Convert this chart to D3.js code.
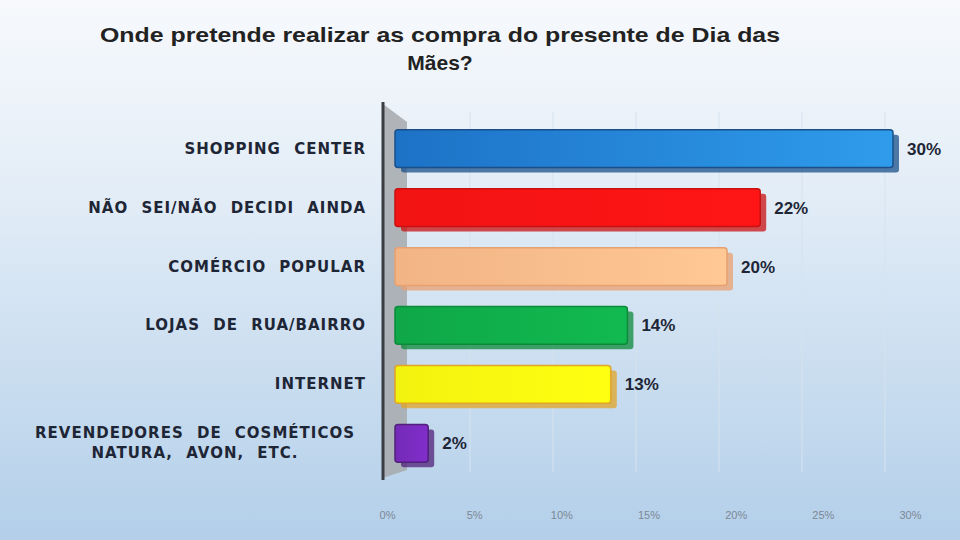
<!DOCTYPE html>
<html>
<head>
<meta charset="utf-8">
<script src="https://cdn.jsdelivr.net/npm/d3@7"></script>
<style>
  body { margin: 0; }
  svg { display: block; }
</style>
</head>
<body>
<div id="chart"></div>
<script>
// data
const categories = [
  "SHOPPING CENTER",
  "NÃO SEI/NÃO DECIDI AINDA",
  "COMÉRCIO POPULAR",
  "LOJAS DE RUA/BAIRRO",
  "INTERNET",
  "REVENDEDORES DE COSMÉTICOS|NATURA, AVON, ETC."
];
const values = [30, 22, 20, 14, 13, 2];
const tickValues = [0, 5, 10, 15, 20, 25, 30];
const barColors = ["#1f78d1", "#ff1414", "#ffbe8c", "#10b04c", "#ffff10", "#7a2cc0"];
const barEdges = ["#1a4f8a", "#c81010", "#e8a070", "#0c8a3a", "#e0a428", "#50207a"];

const width = 960;
const height = 540;

const svg = d3.select("#chart")
  .append("svg")
  .attr("width", width)
  .attr("height", height);

const defs = svg.append("defs");

// background gradient
const bg = defs.append("linearGradient").attr("id", "bg")
  .attr("x1", 0).attr("y1", 0).attr("x2", 0).attr("y2", 1);
bg.append("stop").attr("offset", "0%").attr("stop-color", "#f7f9fc");
bg.append("stop").attr("offset", "35%").attr("stop-color", "#e3edf7");
bg.append("stop").attr("offset", "100%").attr("stop-color", "#b3cfe9");

svg.append("rect").attr("width", width).attr("height", height).attr("fill", "url(#bg)");

// bar gradients
barColors.forEach((c, i) => {
  const g = defs.append("linearGradient").attr("id", "bar" + i)
    .attr("x1", 0).attr("y1", 0).attr("x2", 1).attr("y2", 0);
  g.append("stop").attr("offset", "0%").attr("stop-color", d3.color(c).darker(0.15));
  g.append("stop").attr("offset", "100%").attr("stop-color", i === 0 ? "#2f9ceb" : d3.color(c).brighter(0.15));
});

// scales
const x = d3.scaleLinear().domain([0, 30]).range([395, 893]);
const xAxisScale = d3.scaleLinear().domain([0, 30]).range([387, 910]);
const y = d3.scaleBand().domain(categories).range([118, 474]).paddingInner(0.36).paddingOuter(0.2);

// gridlines
svg.append("g")
  .selectAll("line")
  .data(tickValues.slice(1))
  .join("line")
  .attr("x1", d => x(d) - 8).attr("x2", d => x(d) - 8)
  .attr("y1", 112).attr("y2", 472)
  .attr("stroke", "#d6e2ee").attr("stroke-width", 1);

// 3D side wall
svg.append("path")
  .attr("d", `M383,104 L407,122 L407,470 L383,478 Z`)
  .attr("fill", "#a6a9ad").attr("opacity", 0.85);
svg.append("line")
  .attr("x1", 383).attr("x2", 383).attr("y1", 102).attr("y2", 480)
  .attr("stroke", "#3a3d42").attr("stroke-width", 3);

// bars
const bars = svg.append("g").selectAll("g")
  .data(categories)
  .join("g");

// shadow/depth
bars.append("rect")
  .attr("x", (d, i) => x(0) + 6)
  .attr("y", d => y(d) + 5)
  .attr("width", (d, i) => x(values[i]) - x(0))
  .attr("height", y.bandwidth())
  .attr("rx", 3)
  .attr("fill", (d, i) => barEdges[i])
  .attr("opacity", 0.75);

bars.append("rect")
  .attr("x", x(0))
  .attr("y", d => y(d))
  .attr("width", (d, i) => x(values[i]) - x(0))
  .attr("height", y.bandwidth())
  .attr("rx", 3)
  .attr("fill", (d, i) => `url(#bar${i})`)
  .attr("stroke", (d, i) => barEdges[i])
  .attr("stroke-width", 1.5);

// value labels
bars.append("text")
  .attr("x", (d, i) => x(values[i]) + 14)
  .attr("y", d => y(d) + y.bandwidth() / 2 + 6)
  .attr("font-family", "Liberation Sans, Arial, sans-serif")
  .attr("font-weight", "bold")
  .attr("font-size", 17)
  .attr("fill", "#1e2636")
  .text((d, i) => values[i] + "%");

// category labels
const labels = svg.append("g").selectAll("text")
  .data(categories)
  .join("text")
  .attr("text-anchor", "end")
  .attr("font-family", "DejaVu Sans, sans-serif")
  .attr("font-weight", "bold")
  .attr("font-size", 15)
  .attr("letter-spacing", 1)
  .attr("word-spacing", 7)
  .attr("fill", "#1e2636");

labels.each(function(d) {
  const parts = d.split("|");
  const t = d3.select(this);
  const cy = y(d) + y.bandwidth() / 2;
  parts.forEach((p, k) => {
    t.append("tspan")
      .attr("x", parts.length > 1 ? 195 : 366)
      .attr("text-anchor", parts.length > 1 ? "middle" : "end")
      .attr("y", cy + 5 + (k - (parts.length - 1) / 2) * 20)
      .text(p);
  });
});

// x axis labels
const xAxis = svg.append("g")
  .attr("transform", "translate(0, 508)")
  .call(d3.axisBottom(xAxisScale).tickValues(tickValues).tickFormat(d => d + "%").tickSize(0));
xAxis.select(".domain").remove();
xAxis.selectAll("text")
  .attr("font-family", "Liberation Sans, Arial, sans-serif")
  .attr("font-size", 11)
  .attr("fill", "#7d8896");

// title
const title = svg.append("text")
  .attr("text-anchor", "middle")
  .attr("font-family", "Liberation Sans, Arial, sans-serif")
  .attr("font-weight", "bold")
  .attr("font-size", 21)
  .attr("fill", "#222");
title.append("tspan").attr("x", 440).attr("y", 42)
  .attr("textLength", 680).attr("lengthAdjust", "spacingAndGlyphs")
  .text("Onde pretende realizar as compra do presente de Dia das");
title.append("tspan").attr("x", 440).attr("y", 70).text("Mães?");
</script>
</body>
</html>
